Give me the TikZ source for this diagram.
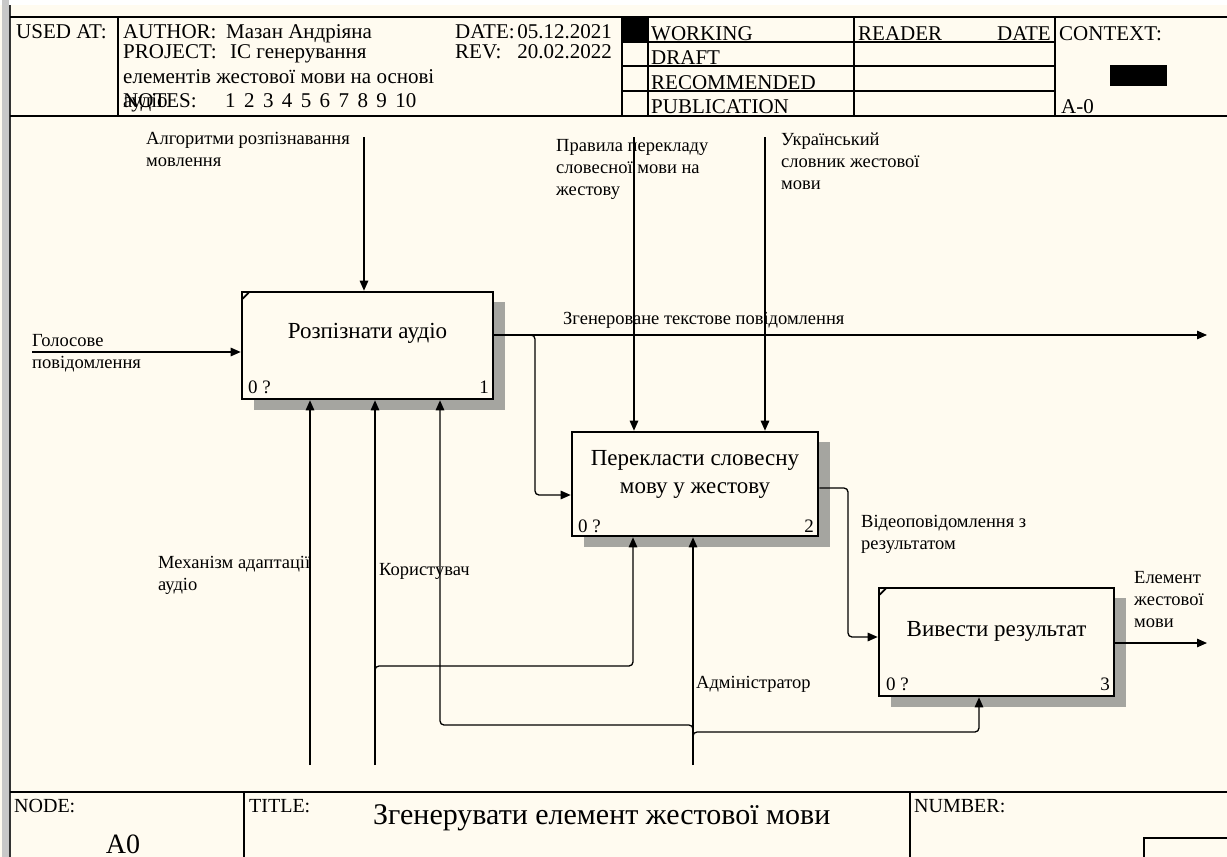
\documentclass[tikz,border=0pt]{standalone}
\usepackage{fontspec}
\setmainfont{Liberation Serif}
\usetikzlibrary{arrows.meta}
\definecolor{bgc}{RGB}{255,251,240}
\definecolor{edge}{RGB}{200,200,200}
\definecolor{shadowc}{RGB}{165,165,160}
\tikzset{
  hdr/.style={font=\fontsize{21}{24}\selectfont, inner sep=0, anchor=base west},
  hdre/.style={font=\fontsize{21}{24}\selectfont, inner sep=0, anchor=base east},
  lbl/.style={font=\fontsize{18.5}{22}\selectfont, inner sep=0, anchor=base west, align=left},
  boxshape/.style={draw, line width=2.6pt, fill=bgc, inner sep=0},
  boxtxt/.style={font=\fontsize{23}{28}\selectfont, inner sep=0, align=center},
  corner/.style={font=\fontsize{19}{22}\selectfont, inner sep=0},
  shadowfill/.style={fill=shadowc},
  arr/.style={line width=1.3pt, -{Triangle[length=10pt,width=8.5pt]}, rounded corners=4pt},
  frame/.style={line width=1.6pt},
  cornermark/.style={line width=1.8pt},
}
\begin{document}
\begin{tikzpicture}[x=1pt,y=-1pt]
\useasboundingbox (0,0) rectangle (1227,857);
\fill[bgc] (0,0) rectangle (1227,857);
\fill[white] (0,0) rectangle (1227,5);
\fill[edge] (2,0) rectangle (9,857);
\draw[line width=2pt, black!80] (10,5) -- (10,857);

% ---------- header ----------
\draw[frame] (10,17) -- (1227,17);
\draw[frame] (10,116) -- (1227,116);
\draw[frame] (118,17) -- (118,116);
\draw[frame] (622,17) -- (622,116);
\draw[frame] (648,17) -- (648,116);
\draw[frame] (854,17) -- (854,116);
\draw[frame] (1055,17) -- (1055,116);
\draw[frame] (622,42) -- (1055,42);
\draw[frame] (622,66) -- (1055,66);
\draw[frame] (622,91) -- (1055,91);
\fill (622,17) rectangle (648,42);
\fill (1110,65) rectangle (1167,86);

\node[hdr] (usedat) at (16,38) {USED AT:};
\node[hdr] (author) at (123,38) {AUTHOR:};
\node[hdr] (authorn) at (226,38) {Мазан Андріяна};
\node[hdr] (date) at (455,38) {DATE:};
\node[hdre] (datev) at (612,38) {05.12.2021};
\node[hdr] (project) at (123,58) {PROJECT:};
\node[hdr] (projectn) at (230,58) {ІС генерування};
\node[hdr] (rev) at (455,58) {REV:};
\node[hdre] (revv) at (612,58) {20.02.2022};
\node[hdr] (proj2) at (123,83) {елементів жестової мови на основі};
\node[hdr] (notes) at (123,107) {NOTES:};
\foreach \i in {1,...,10} { \node[hdr] (num\i) at ({225+18.9*(\i-1)},107) {\i}; }
\node[hdr] (proj3) at (123,107) {аудіо};
\node[hdr] (working) at (651,40) {WORKING};
\node[hdr] (draft) at (651,64) {DRAFT};
\node[hdr] (recom) at (651,89) {RECOMMENDED};
\node[hdr] (publ) at (651,113) {PUBLICATION};
\node[hdr] (reader) at (858,40) {READER};
\node[hdre] (rdate) at (1051,40) {DATE};
\node[hdr] (context) at (1059,40) {CONTEXT:};
\node[hdr] (azero) at (1061,113) {A-0};

% ---------- boxes ----------
\fill[shadowfill] (254,302) rectangle (505,410);
\fill[shadowfill] (584,442) rectangle (830,547);
\fill[shadowfill] (891,598) rectangle (1126,707);

\node[boxshape, minimum width=251pt, minimum height=107pt] (b1) at (367.5,345.5) {};
\node[boxshape, minimum width=246pt, minimum height=104pt] (b2) at (695,484) {};
\node[boxshape, minimum width=235pt, minimum height=108pt] (b3) at (996.5,642) {};

\node[boxtxt] (b1t) at (367.5,333) {Розпізнати аудіо};
\node[boxtxt] (b2t) at (695,474) {Перекласти словесну\\мову у жестову};
\node[boxtxt] (b3t) at (996.5,631) {Вивести результат};

\draw[cornermark] ([shift={(2,8)}]b1.north west) -- ([shift={(8,2)}]b1.north west);
\draw[cornermark] ([shift={(2,8)}]b3.north west) -- ([shift={(8,2)}]b3.north west);

\node[corner, anchor=base west] (b1q) at (248,393) {0 ?};
\node[corner, anchor=base east] (b1n) at (489,393) {1};
\node[corner, anchor=base west] (b2q) at (578,532) {0 ?};
\node[corner, anchor=base east] (b2n) at (814,532) {2};
\node[corner, anchor=base west] (b3q) at (886,690) {0 ?};
\node[corner, anchor=base east] (b3n) at (1110,690) {3};

% ---------- connectors ----------
\coordinate (in1) at (32,352);
\draw[arr] (in1) -- (in1 -| b1.west);

\coordinate (ctl1) at (364,137);
\draw[arr] (ctl1) -- (ctl1 |- b1.north);

\coordinate (out1) at (1207,335);
\draw[arr] (b1.east |- out1) -- (out1);
\coordinate (j1) at (527,335);
\coordinate (j1a) at (535,335);
\coordinate (j1b) at (535,495);
\draw[arr] (j1) -- (j1a) -- (j1b) -- (j1b -| b2.west);

\coordinate (ctl2a) at (634,137);
\coordinate (ctl2b) at (765,137);
\draw[arr] (ctl2a) -- (ctl2a |- b2.north);
\draw[arr] (ctl2b) -- (ctl2b |- b2.north);

\coordinate (o2a) at (848,488);
\coordinate (o2b) at (848,637);
\draw[arr] (b2.east |- o2a) -- (o2a) -- (o2b) -- (o2b -| b3.west);

\coordinate (out3) at (1207,643);
\draw[arr] (b3.east |- out3) -- (out3);

\coordinate (m1) at (310,765);
\draw[arr] (m1) -- (m1 |- b1.south);
\coordinate (m2) at (375,765);
\draw[arr] (m2) -- (m2 |- b1.south);
\coordinate (m2a) at (375,674);
\coordinate (m2b) at (375,666);
\coordinate (m2c) at (633,666);
\draw[arr] (m2a) -- (m2b) -- (m2c) -- (m2c |- b2.south);

\coordinate (m3) at (693,765);
\draw[arr] (m3) -- (m3 |- b2.south);
\coordinate (m3a) at (693,735);
\coordinate (m3b) at (693,725);
\coordinate (m3c) at (440,725);
\draw[arr] (m3a) -- (m3b) -- (m3c) -- (m3c |- b1.south);
\coordinate (m3d) at (693,742);
\coordinate (m3e) at (693,732);
\coordinate (m3f) at (979,732);
\draw[arr] (m3d) -- (m3e) -- (m3f) -- (m3f |- b3.south);

% ---------- labels (anchor = baseline of last line) ----------
\node[lbl] (l_in1) at (32,368) {Голосове\\повідомлення};
\node[lbl] (l_ctl1) at (146,166) {Алгоритми розпізнавання\\мовлення};
\node[lbl] (l_ctl2a) at (556,195) {Правила перекладу\\словесної мови на\\жестову};
\node[lbl] (l_ctl2b) at (781,189) {Український\\словник жестової\\мови};
\node[lbl] (l_out1) at (563,324) {Згенероване текстове повідомлення};
\node[lbl] (l_out2) at (861,549) {Відеоповідомлення з\\результатом};
\node[lbl] (l_out3) at (1134,627) {Елемент\\жестової\\мови};
\node[lbl] (l_m1) at (158,590) {Механізм адаптації\\аудіо};
\node[lbl] (l_m2) at (379,575) {Користувач};
\node[lbl] (l_m3) at (696,688) {Адміністратор};

% ---------- footer ----------
\draw[frame] (10,792) -- (1227,792);
\draw[frame] (244,792) -- (244,857);
\draw[frame] (910,792) -- (910,857);
\draw[frame] (1144,857) -- (1144,838) -- (1227,838);
\node[font=\fontsize{20}{24}\selectfont, inner sep=0, anchor=base west] (nodel) at (14,812) {NODE:};
\node[font=\fontsize{28}{32}\selectfont, inner sep=0, anchor=base] (nodev) at (123,853) {A0};
\node[font=\fontsize{20}{24}\selectfont, inner sep=0, anchor=base west] (titlel) at (249,812) {TITLE:};
\node[font=\fontsize{30}{34}\selectfont, inner sep=0, anchor=base west] (title) at (373,824) {Згенерувати елемент жестової мови};
\node[font=\fontsize{20}{24}\selectfont, inner sep=0, anchor=base west] (numl) at (914,812) {NUMBER:};
\end{tikzpicture}
\end{document}
